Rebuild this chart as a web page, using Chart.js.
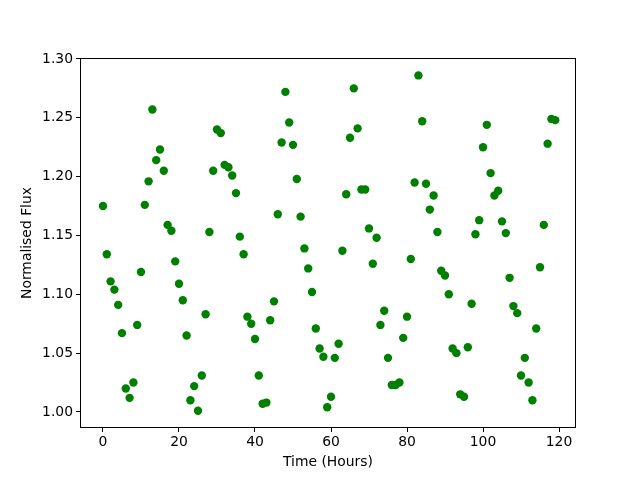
<!DOCTYPE html>
<html>
<head>
<meta charset="utf-8">
<script src="https://cdn.jsdelivr.net/npm/chart.js@4"></script>
<style>
  body { margin: 0; background: #fff; }
</style>
</head>
<body>
<canvas id="grafico" width="640" height="480"></canvas>
<script>
// horas (eje x)
const horas = [
  0, 1, 2, 3, 4, 5, 6, 7, 8, 9, 10, 11, 12, 13, 14, 15, 16, 17, 18, 19,
  20, 21, 22, 23, 24, 25, 26, 27, 28, 29, 30, 31, 32, 33, 34, 35, 36, 37, 38, 39,
  40, 41, 42, 43, 44, 45, 46, 47, 48, 49, 50, 51, 52, 53, 54, 55, 56, 57, 58, 59,
  60, 61, 62, 63, 64, 65, 66, 67, 68, 69, 70, 71, 72, 73, 74, 75, 76, 77, 78, 79,
  80, 81, 82, 83, 84, 85, 86, 87, 88, 89, 90, 91, 92, 93, 94, 95, 96, 97, 98, 99,
  100, 101, 102, 103, 104, 105, 106, 107, 108, 109, 110, 111, 112, 113, 114, 115, 116, 117, 118, 119
];

// flujo normalizado
const flujo = [
  1.175, 1.134, 1.111, 1.104, 1.091, 1.067, 1.020, 1.012, 1.025, 1.074,
  1.119, 1.176, 1.196, 1.257, 1.214, 1.223, 1.205, 1.159, 1.154, 1.128,
  1.109, 1.095, 1.065, 1.010, 1.022, 1.001, 1.031, 1.083, 1.153, 1.205,
  1.240, 1.237, 1.210, 1.208, 1.201, 1.186, 1.149, 1.134, 1.081, 1.075,
  1.062, 1.031, 1.007, 1.008, 1.078, 1.094, 1.168, 1.229, 1.272, 1.246,
  1.227, 1.198, 1.166, 1.139, 1.122, 1.102, 1.071, 1.054, 1.047, 1.004,
  1.013, 1.046, 1.058, 1.137, 1.185, 1.233, 1.275, 1.241, 1.189, 1.189,
  1.156, 1.126, 1.148, 1.074, 1.086, 1.046, 1.023, 1.023, 1.025, 1.063,
  1.081, 1.130, 1.195, 1.286, 1.247, 1.194, 1.172, 1.184, 1.153, 1.120,
  1.116, 1.100, 1.054, 1.050, 1.015, 1.013, 1.055, 1.092, 1.151, 1.163,
  1.225, 1.244, 1.203, 1.184, 1.188, 1.162, 1.152, 1.114, 1.090, 1.084,
  1.031, 1.046, 1.025, 1.010, 1.071, 1.123, 1.159, 1.228, 1.249, 1.248
];

const ticksX = [0, 20, 40, 60, 80, 100, 120];
const ticksY = [1.00, 1.05, 1.10, 1.15, 1.20, 1.25, 1.30];

const fuente = { family: "DejaVu Sans", size: 13.9 };

// marco negro alrededor del area (como matplotlib)
const marco = {
  id: "marco",
  afterDraw(chart) {
    const { ctx, chartArea: a } = chart;
    ctx.save();
    ctx.strokeStyle = "#000";
    ctx.lineWidth = 1;
    ctx.strokeRect(a.left + 0.5, a.top + 0.5, a.right - a.left - 1, a.bottom - a.top - 1);
    ctx.restore();
  }
};

const puntos = horas.map((h, i) => ({ x: h, y: flujo[i] }));

new Chart(document.getElementById("grafico").getContext("2d"), {
  type: "scatter",
  data: {
    datasets: [{
      data: puntos,
      backgroundColor: "#008000",
      borderColor: "#008000",
      borderWidth: 0,
      pointRadius: 4.2,
      pointHoverRadius: 4.2
    }]
  },
  options: {
    responsive: false,
    animation: false,
    layout: { padding: { top: 58, right: 64, left: 0, bottom: 0 } },
    plugins: { legend: { display: false }, tooltip: { enabled: false } },
    scales: {
      x: {
        min: -6.05,
        max: 124.47,
        afterFit: s => { s.height = 52; },
        afterBuildTicks: s => { s.ticks = ticksX.map(v => ({ value: v })); },
        grid: { drawOnChartArea: false, drawTicks: true, tickLength: 4, tickColor: "#000" },
        border: { display: false },
        ticks: { color: "#000", font: fuente, padding: 2, maxRotation: 0 },
        title: { display: true, text: "Time (Hours)", color: "#000", font: fuente, padding: { top: 0, bottom: 9 } }
      },
      y: {
        min: 0.9864,
        max: 1.3008,
        afterFit: s => { s.width = 80; },
        afterBuildTicks: s => { s.ticks = ticksY.map(v => ({ value: v })); },
        grid: { drawOnChartArea: false, drawTicks: true, tickLength: 4, tickColor: "#000" },
        border: { display: false },
        ticks: { color: "#000", font: fuente, padding: 3, callback: v => v.toFixed(2) },
        title: { display: true, text: "Normalised Flux", color: "#000", font: fuente, padding: { top: 19, bottom: 0 } }
      }
    }
  },
  plugins: [marco]
});
</script>
</body>
</html>
